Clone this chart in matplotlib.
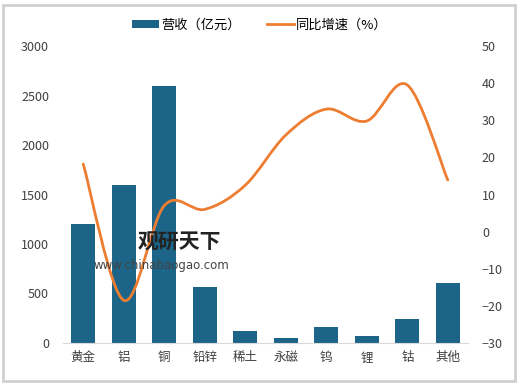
import matplotlib.pyplot as plt
import matplotlib as mpl
from matplotlib.path import Path
from matplotlib.patches import PathPatch, Rectangle, Patch
from matplotlib.lines import Line2D

plt.rcParams['font.family'] = ['Noto Sans CJK SC', 'DejaVu Sans']
plt.rcParams['axes.unicode_minus'] = True

# Data
categories = ['黄金', '铝', '铜', '铅锌', '稀土', '永磁', '钨', '锂', '钴', '其他']
revenue = [1200, 1600, 2600, 570, 120, 48, 158, 70, 242, 608]
growth = [18.2, -18.5, 7.0, 6.0, 12.5, 26.0, 33.0, 29.8, 39.5, 13.9]

bar_color = '#1c6488'
line_color = '#ed7d31'

fig = plt.figure(figsize=(5.2, 3.86), dpi=100)

# outer frame
fig.patches.append(Rectangle((0.006, 0.012), 0.985, 0.975, transform=fig.transFigure,
                             facecolor='white', edgecolor='#d0d0d0', lw=2.0, zorder=-10))

ax = fig.add_axes([63/520, 1-343/386, 405/520, 297/386])
x = list(range(len(categories)))
ax.bar(x, revenue, width=0.6, color=bar_color, zorder=2)
ax.set_xlim(-0.5, len(categories)-0.5)
ax.set_ylim(0, 3000)
ax.set_yticks([0, 500, 1000, 1500, 2000, 2500, 3000])
ax.set_xticks(x)
ax.set_xticklabels(categories, fontsize=9.5, color='#333333')
for s in ['top', 'right', 'left']:
    ax.spines[s].set_visible(False)
ax.spines['bottom'].set_color('#d9d9d9')
ax.tick_params(axis='both', length=0, labelsize=9, colors='#404040')
ax.tick_params(axis='x', pad=6)
ax.tick_params(axis='y', pad=10)
ax.patch.set_alpha(0)

ax2 = ax.twinx()
ax2.set_ylim(-30, 50)
ax2.set_yticks(range(-30, 51, 10))
for s in ax2.spines.values():
    s.set_visible(False)
ax2.tick_params(axis='y', length=0, labelsize=9, colors='#404040', pad=10)

# smoothed line (Catmull-Rom style cubic bezier through the data points)
n = len(growth)
verts = [(x[0], growth[0])]
codes = [Path.MOVETO]
for i in range(n-1):
    p0 = (x[max(i-1, 0)], growth[max(i-1, 0)])
    p1 = (x[i], growth[i])
    p2 = (x[i+1], growth[i+1])
    p3 = (x[min(i+2, n-1)], growth[min(i+2, n-1)])
    c1 = (p1[0] + (p2[0]-p0[0])/6, p1[1] + (p2[1]-p0[1])/6)
    c2 = (p2[0] - (p3[0]-p1[0])/6, p2[1] - (p3[1]-p1[1])/6)
    verts += [c1, c2, p2]
    codes += [Path.CURVE4]*3
ax2.add_patch(PathPatch(Path(verts, codes), facecolor='none', edgecolor=line_color,
                        lw=2.0, capstyle='round', zorder=3))

# watermark
fig.text(138/520, 1-242/386, '观研天下', fontsize=15, fontweight='bold', color='#222222',
         va='center', ha='left')
fig.text(93/520, 1-266/386, 'www.chinabaogao.com', fontsize=8.5, color='#444444',
         va='center', ha='left', family='DejaVu Sans')

# legend
handles = [Patch(facecolor=bar_color, label='营收（亿元）'),
           Line2D([], [], color=line_color, lw=2, label='同比增速（%）')]
fig.legend(handles=handles, loc='center', bbox_to_anchor=(0.5, 1-25/386), ncol=2,
           frameon=False, fontsize=9.5, handlelength=2.0, handleheight=0.5,
           columnspacing=2.0, handletextpad=0.2)

fig.savefig('out.png', dpi=100)
